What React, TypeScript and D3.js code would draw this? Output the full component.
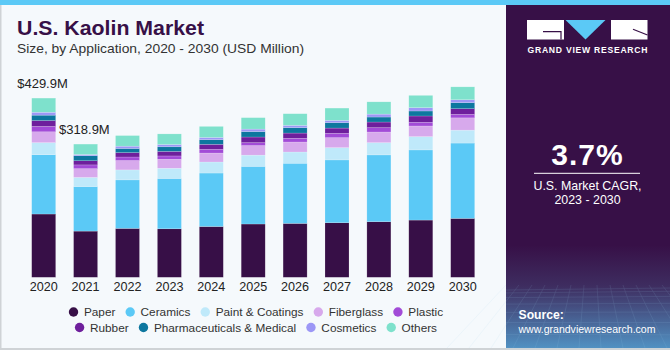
import React, { useEffect, useRef } from "react";
import * as d3 from "d3";

const years = ["2020", "2021", "2022", "2023", "2024", "2025", "2026", "2027", "2028", "2029", "2030"];
const seriesNames = ["Paper", "Ceramics", "Paint & Coatings", "Fiberglass", "Plastic", "Rubber", "Pharmaceuticals & Medical", "Cosmetics", "Others"];
const seriesColors = ["#370f47", "#5bc9f6", "#bfe9fa", "#d7a9ec", "#a24bd7", "#6e1f9c", "#0d779f", "#9c97f6", "#7ee1cc"];

const paper = [152, 111, 117.5, 116.5, 122, 128, 129.5, 131, 133.5, 137.5, 141.5];
const ceramics = [142.5, 107, 116.5, 121, 128.5, 138.5, 144.5, 151, 160.5, 168.5, 181];
const paint = [29, 22, 24, 24.5, 26.5, 27, 27, 29.5, 29.5, 32, 31];
const fiberglass = [26, 21, 22.5, 21.5, 21.5, 23, 24, 24, 25.5, 25.5, 29.5];
const plastic = [13, 9, 8.5, 8, 9, 7, 9, 10.5, 10.5, 9, 8.5];
const rubber = [14, 10, 10.5, 11, 12, 13.5, 12.5, 12.5, 13.5, 15, 13.5];
const pharma = [13, 12, 10, 11, 11, 13, 13, 13, 12, 12, 14.5];
const cosmetics = [7, 3, 5.5, 5.5, 5.5, 6, 5.5, 5.5, 7, 8, 7];
const others = [34, 25, 25.5, 25.5, 26.5, 27.5, 28, 29.5, 29.5, 29.5, 31];

const labelledYears = ["2020", "2021"];
const labelTexts = ["$429.9M", "$318.9M"];

const seriesValues = [paper, ceramics, paint, fiberglass, plastic, rubber, pharma, cosmetics, others];

const FONT = "'Liberation Sans', Arial, sans-serif";

export default function App() {
  const legendRef = useRef<SVGGElement>(null);

  const table = years.map((y, i) => {
    const row: any = { year: y };
    seriesNames.forEach((s, k) => (row[s] = seriesValues[k][i]));
    return row;
  });
  const stacked = d3.stack<any>().keys(seriesNames)(table);

  const x = d3.scaleBand<string>().domain(years).range([22.75, 483.65]).paddingInner(0.427).paddingOuter(0.2135);
  const y = d3.scaleLinear().domain([0, 430]).range([277.3, 98.3]);

  const totals = years.map((_, i) => d3.sum(seriesValues, (s) => s[i]));

  useEffect(() => {
    const g = d3.select(legendRef.current);
    g.selectAll("*").remove();
    const rows = [seriesNames.slice(0, 5), seriesNames.slice(5)];
    const rowY = [312, 327.5];
    const centerX = 256;
    rows.forEach((names, r) => {
      const rowG = g.append("g");
      let cx = 0;
      names.forEach((name) => {
        const idx = seriesNames.indexOf(name);
        const item = rowG.append("g").attr("transform", `translate(${cx},0)`);
        item.append("circle").attr("cx", 4.6).attr("cy", rowY[r]).attr("r", 4.7).attr("fill", seriesColors[idx]);
        const t = item
          .append("text")
          .attr("x", 15)
          .attr("y", rowY[r] + 4.2)
          .attr("font-size", 11.8)
          .attr("font-family", FONT)
          .attr("fill", "#333")
          .text(name);
        const w = (t.node() as SVGTextElement).getComputedTextLength();
        cx += 15 + w + 10.2;
      });
      const total = cx - 10.2;
      rowG.attr("transform", `translate(${centerX - total / 2},0)`);
    });
  }, []);

  return (
    <div style={{ position: "fixed", left: 0, top: 0 }}>
      <svg width={670} height={350} style={{ display: "block" }}>
        <defs>
          <linearGradient id="panelGrad" x1="0" y1="0" x2="0" y2="1">
            <stop offset="0" stopColor="#371047" />
            <stop offset="0.7" stopColor="#371047" />
            <stop offset="0.82" stopColor="#3e2d60" />
            <stop offset="1" stopColor="#5191c2" />
          </linearGradient>
        </defs>
        <rect x={0} y={0} width={670} height={350} fill="#f5f9fc" />
        <rect x={0} y={0} width={670} height={5} fill="#5bc9f6" />
        <rect x={0} y={5} width={1.5} height={345} fill="#cfd3d6" />
        <rect x={0} y={348} width={670} height={2} fill="#cfd3d6" />
        {/* right panel */}
        <rect x={506} y={5} width={164} height={343} fill="url(#panelGrad)" />
        <g opacity={0.18} stroke="#9fd4f0" strokeWidth={0.6}>
          {d3.range(0, 9).map((i) => (
            <line key={"h" + i} x1={506} x2={670} y1={290 + i * i * 0.9 + i * 2} y2={288 + i * i * 0.9 + i * 2.4} />
          ))}
          {d3.range(0, 14).map((i) => (
            <line key={"v" + i} x1={506 + i * 13} x2={506 + (i - 6.5) * 22 + 84} y1={285} y2={348} />
          ))}
        </g>
        {/* logo */}
        <rect x={527} y={20} width={37} height={19.5} fill="#ffffff" />
        <path d="M543,31.7 L561,31.7 L561,39.5" fill="none" stroke="#371047" strokeWidth={1.2} />
        <path d="M565.5,20 L605.5,20 L585.5,39.5 Z" fill="#5bc9f6" />
        <rect x={611} y={20} width={36.5} height={19.5} fill="#ffffff" />
        <path d="M633,29.3 L647.5,35" fill="none" stroke="#371047" strokeWidth={1.2} />
        <text x={527.5} y={52.8} fontSize={8.6} fontWeight="bold" fontFamily={FONT} fill="#ffffff" textLength={120} lengthAdjust="spacing">
          GRAND VIEW RESEARCH
        </text>
        <text x={587.5} y={165} textAnchor="middle" fontSize={30} fontWeight="bold" fontFamily={FONT} fill="#ffffff" letterSpacing={1}>
          3.7%
        </text>
        <rect x={534} y={172.8} width={106} height={1} fill="#ffffff" />
        <text x={587.5} y={190} textAnchor="middle" fontSize={12.4} fontFamily={FONT} fill="#ffffff">
          U.S. Market CAGR,
        </text>
        <text x={587.5} y={204} textAnchor="middle" fontSize={12.4} fontFamily={FONT} fill="#ffffff">
          2023 - 2030
        </text>
        <text x={518.5} y={319.3} fontSize={12.2} fontWeight="bold" fontFamily={FONT} fill="#ffffff">
          Source:
        </text>
        <text x={518.5} y={332.7} fontSize={11.6} fontFamily={FONT} fill="#ffffff" textLength={137} lengthAdjust="spacingAndGlyphs">
          www.grandviewresearch.com
        </text>
        {/* titles */}
        <text x={17} y={35} fontSize={20} fontWeight="900" fontFamily={FONT} fill="#371047" textLength={187} lengthAdjust="spacingAndGlyphs">
          U.S. Kaolin Market
        </text>
        <text x={17} y={53} fontSize={13.2} fontFamily={FONT} fill="#333333" textLength={287} lengthAdjust="spacingAndGlyphs">
          Size, by Application, 2020 - 2030 (USD Million)
        </text>
        {/* bars */}
        {stacked.map((layer, k) => (
          <g key={seriesNames[k]} fill={seriesColors[k]}>
            {layer.map((d, i) => (
              <rect
                key={years[i]}
                x={x(years[i])}
                y={y(d[1])}
                width={x.bandwidth()}
                height={Math.max(0, y(d[0]) - y(d[1]))}
                stroke="#ffffff"
                strokeOpacity={0.35}
                strokeWidth={0.5}
              />
            ))}
          </g>
        ))}
        {/* value labels */}
        {labelledYears.map((yr, j) => {
          const i = years.indexOf(yr);
          return (
            <text key={yr} x={(x(yr) as number) - 14.5} y={y(totals[i]) - 10.5} fontSize={13} fontFamily={FONT} fill="#222">
              {labelTexts[j]}
            </text>
          );
        })}
        {/* x axis labels */}
        {years.map((yr) => (
          <text key={yr} x={(x(yr) as number) + x.bandwidth() / 2} y={291} textAnchor="middle" fontSize={12.6} fontFamily={FONT} fill="#222">
            {yr}
          </text>
        ))}
        <g ref={legendRef} />
      </svg>
    </div>
  );
}
